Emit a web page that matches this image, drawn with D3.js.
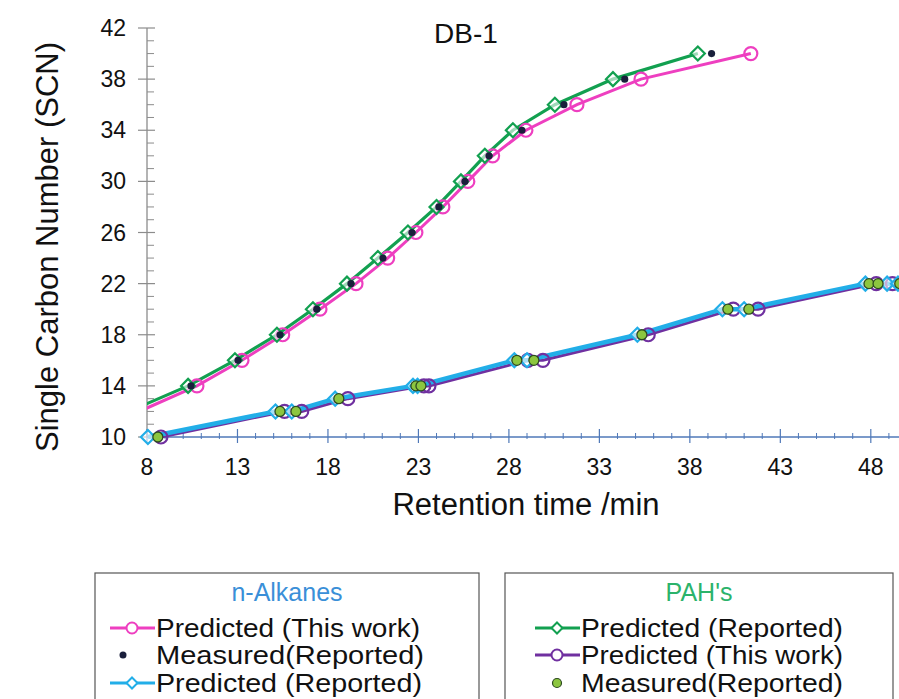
<!DOCTYPE html>
<html>
<head>
<meta charset="utf-8">
<script src="https://cdn.jsdelivr.net/npm/d3@7"></script>
<style>
  body { margin: 0; background: #fff; }
  svg { display: block; font-family: "Liberation Sans", Arial, sans-serif; }
</style>
</head>
<body>
<div class="chart"></div>
<script>
// upper curve: SCN vs retention time
const scnUpper = [12, 14, 16, 18, 20, 22, 24, 26, 28, 30, 32, 34, 36, 38, 40];
const alkThisWork = [7.57, 10.76, 13.25, 15.5, 17.56, 19.55, 21.3, 22.86, 24.35, 25.73, 27.1, 28.94, 31.76, 35.3, 41.37];
const alkMeasured = [7.3, 10.43, 13.03, 15.35, 17.38, 19.27, 21.04, 22.64, 24.13, 25.57, 26.9, 28.72, 31.04, 34.4, 39.2];
const pahReported = [7.0, 10.27, 12.86, 15.18, 17.17, 19.05, 20.76, 22.42, 24.0, 25.35, 26.67, 28.22, 30.54, 33.75, 38.44];

// lower curve
const scnLower = [10, 12, 12, 13, 14, 14, 16, 16, 18, 20, 20, 22, 22, 22];
const alkReported = [8.05, 15.1, 16.0, 18.4, 22.7, 22.95, 28.3, 29.0, 35.1, 39.8, 41.0, 47.7, 48.9, 49.5];
const pahThisWork = [8.77, 15.6, 16.55, 19.1, 23.3, 23.58, 29.05, 29.88, 35.7, 40.4, 41.77, 48.3, 49.2, 49.9];
const pahMeasured = [8.6, 15.35, 16.23, 18.6, 22.86, 23.14, 28.44, 29.38, 35.35, 40.1, 41.26, 47.9, 48.4, 49.6];

const xTicks = [8, 13, 18, 23, 28, 33, 38, 43, 48];
const yTicks = [10, 14, 18, 22, 26, 30, 34, 38, 42];

const width = 899, height = 699;
const svg = d3.select(".chart").append("svg")
    .attr("width", width).attr("height", height);

const x = d3.scaleLinear().domain([8, 50]).range([147, 907]);
const y = d3.scaleLinear().domain([10, 42]).range([437, 28]);

svg.append("clipPath").attr("id", "plot")
  .append("rect").attr("x", 147).attr("y", 20).attr("width", 800).attr("height", 420);

// axes
const xAxisCol = "#4f78b8", yAxisCol = "#8c8c8c";
const xMinor = d3.range(8, 50.1, 1).filter(v => (v - 8) % 5 !== 0);
const yMinor = d3.range(10, 42.1, 1).filter(v => (v - 10) % 4 !== 0);

const ya = svg.append("g");
ya.append("line").attr("x1", 147).attr("x2", 147).attr("y1", y(42)).attr("y2", y(10))
  .attr("stroke", yAxisCol).attr("stroke-width", 1.3);
ya.selectAll(".ymin").data(yMinor).join("line")
  .attr("x1", 147).attr("x2", 154).attr("y1", d => y(d)).attr("y2", d => y(d))
  .attr("stroke", yAxisCol).attr("stroke-width", 1);
ya.selectAll(".ymaj").data(yTicks).join("line")
  .attr("x1", 138).attr("x2", 155).attr("y1", d => y(d)).attr("y2", d => y(d))
  .attr("stroke", yAxisCol).attr("stroke-width", 1.2);
ya.selectAll("text").data(yTicks).join("text")
  .attr("x", 126).attr("y", d => y(d) + 8)
  .attr("text-anchor", "end").attr("font-size", 23).attr("fill", "#111")
  .text(d => d);

const xa = svg.append("g");
xa.append("line").attr("x1", x(8)).attr("x2", width).attr("y1", 437).attr("y2", 437)
  .attr("stroke", xAxisCol).attr("stroke-width", 1.3);
xa.selectAll(".xmin").data(xMinor).join("line")
  .attr("x1", d => x(d)).attr("x2", d => x(d)).attr("y1", 433).attr("y2", 439)
  .attr("stroke", xAxisCol).attr("stroke-width", 1);
xa.selectAll(".xmaj").data(xTicks).join("line")
  .attr("x1", d => x(d)).attr("x2", d => x(d)).attr("y1", 429).attr("y2", 443)
  .attr("stroke", xAxisCol).attr("stroke-width", 1.2);
xa.selectAll("text").data(xTicks).join("text")
  .attr("x", d => x(d)).attr("y", 475)
  .attr("text-anchor", "middle").attr("font-size", 23).attr("fill", "#111")
  .text(d => d);

// titles
svg.append("text").attr("x", 466).attr("y", 43).attr("text-anchor", "middle")
  .attr("font-size", 28).attr("fill", "#111").text("DB-1");
svg.append("text").attr("x", 526).attr("y", 515).attr("text-anchor", "middle")
  .attr("font-size", 31).attr("fill", "#111").text("Retention time /min");
svg.append("text").attr("transform", "translate(58,247) rotate(-90)").attr("text-anchor", "middle")
  .attr("font-size", 31).attr("fill", "#111").text("Single Carbon Number (SCN)");

// colours
const pink = "#ee3fc0", green = "#12a050", cyan = "#22aee8", purple = "#7030a0",
      navy = "#1a1f3c", lime = "#8cc63f";

const line = d3.line().x(d => x(d[0])).y(d => y(d[1]));
const zipUp = xs => xs.map((v, i) => [v, scnUpper[i]]);
const zipLo = xs => xs.map((v, i) => [v, scnLower[i]]);
const inside = d => d[0] >= 8;

const plot = svg.append("g");
const lines = plot.append("g").attr("clip-path", "url(#plot)");

function diamond(g, pts, col, s) {
  g.selectAll(null).data(pts.filter(inside)).join("path")
    .attr("d", d => {
      const cx = x(d[0]), cy = y(d[1]);
      return `M${cx},${cy - s}L${cx + s},${cy}L${cx},${cy + s}L${cx - s},${cy}Z`;
    })
    .attr("fill", "#fff").attr("fill-opacity", 0.6)
    .attr("stroke", col).attr("stroke-width", 2.2);
}
function circles(g, pts, col, r) {
  g.selectAll(null).data(pts.filter(inside)).join("circle")
    .attr("cx", d => x(d[0])).attr("cy", d => y(d[1])).attr("r", r)
    .attr("fill", "none").attr("stroke", col).attr("stroke-width", 2.2);
}

// lower curve
lines.append("path").datum(zipLo(pahThisWork)).attr("d", line)
  .attr("fill", "none").attr("stroke", purple).attr("stroke-width", 3);
lines.append("path").datum(zipLo(alkReported)).attr("d", line)
  .attr("fill", "none").attr("stroke", cyan).attr("stroke-width", 4.5);
circles(plot, zipLo(pahThisWork), purple, 6.5);
diamond(plot, zipLo(alkReported), cyan, 7);
plot.selectAll(null).data(zipLo(pahMeasured).filter(inside)).join("circle")
  .attr("cx", d => x(d[0])).attr("cy", d => y(d[1])).attr("r", 5)
  .attr("fill", lime).attr("stroke", "#2d4a20").attr("stroke-width", 1.3);

// upper curve
lines.append("path").datum(zipUp(alkThisWork)).attr("d", line)
  .attr("fill", "none").attr("stroke", pink).attr("stroke-width", 3);
circles(plot, zipUp(alkThisWork), pink, 6.5);
lines.append("path").datum(zipUp(pahReported)).attr("d", line)
  .attr("fill", "none").attr("stroke", green).attr("stroke-width", 3.2);
diamond(plot, zipUp(pahReported), green, 7);
plot.selectAll(null).data(zipUp(alkMeasured).filter(inside)).join("circle")
  .attr("cx", d => x(d[0])).attr("cy", d => y(d[1])).attr("r", 3.6)
  .attr("fill", navy);

// legends
const legends = [
  { x: 95, w: 384, title: "n-Alkanes", tcol: "#3a8fd8", lx: 110, items: [
    { label: "Predicted (This work)", col: pink, kind: "circle", len: 264 },
    { label: "Measured(Reported)", col: navy, kind: "dot", len: 268 },
    { label: "Predicted (Reported)", col: cyan, kind: "diamond", len: 266 } ] },
  { x: 505, w: 388, title: "PAH's", tcol: "#2bb36b", lx: 535, items: [
    { label: "Predicted (Reported)", col: green, kind: "diamond", len: 262 },
    { label: "Predicted (This work)", col: purple, kind: "circle", len: 262 },
    { label: "Measured(Reported)", col: lime, kind: "lime", len: 262 } ] }
];
const rowY = [628, 655, 683];

legends.forEach(L => {
  const g = svg.append("g");
  g.append("rect").attr("x", L.x).attr("y", 573).attr("width", L.w).attr("height", 140)
    .attr("fill", "#fff").attr("stroke", "#555").attr("stroke-width", 1.2);
  g.append("text").attr("x", L.x + L.w / 2).attr("y", 601).attr("text-anchor", "middle")
    .attr("font-size", 25).attr("fill", L.tcol).text(L.title);
  L.items.forEach((it, i) => {
    const cy = rowY[i], cx = L.lx + 22;
    if (it.kind === "circle" || it.kind === "diamond") {
      g.append("line").attr("x1", L.lx).attr("x2", L.lx + 45).attr("y1", cy).attr("y2", cy)
        .attr("stroke", it.col).attr("stroke-width", 3);
    }
    if (it.kind === "circle") {
      g.append("circle").attr("cx", cx).attr("cy", cy).attr("r", 5.5)
        .attr("fill", "#fff").attr("stroke", it.col).attr("stroke-width", 2);
    } else if (it.kind === "diamond") {
      g.append("path").attr("d", `M${cx},${cy - 5.5}L${cx + 5.5},${cy}L${cx},${cy + 5.5}L${cx - 5.5},${cy}Z`)
        .attr("fill", "#fff").attr("stroke", it.col).attr("stroke-width", 2);
    } else if (it.kind === "dot") {
      g.append("circle").attr("cx", cx - 9).attr("cy", cy).attr("r", 3.5).attr("fill", it.col);
    } else {
      g.append("circle").attr("cx", cx).attr("cy", cy).attr("r", 4.5)
        .attr("fill", it.col).attr("stroke", "#2d4a20").attr("stroke-width", 1.2);
    }
    g.append("text").attr("x", L.lx + 46).attr("y", cy + 9)
      .attr("font-size", 25).attr("textLength", it.len).attr("lengthAdjust", "spacingAndGlyphs")
      .attr("fill", "#111").text(it.label);
  });
});
</script>
</body>
</html>
